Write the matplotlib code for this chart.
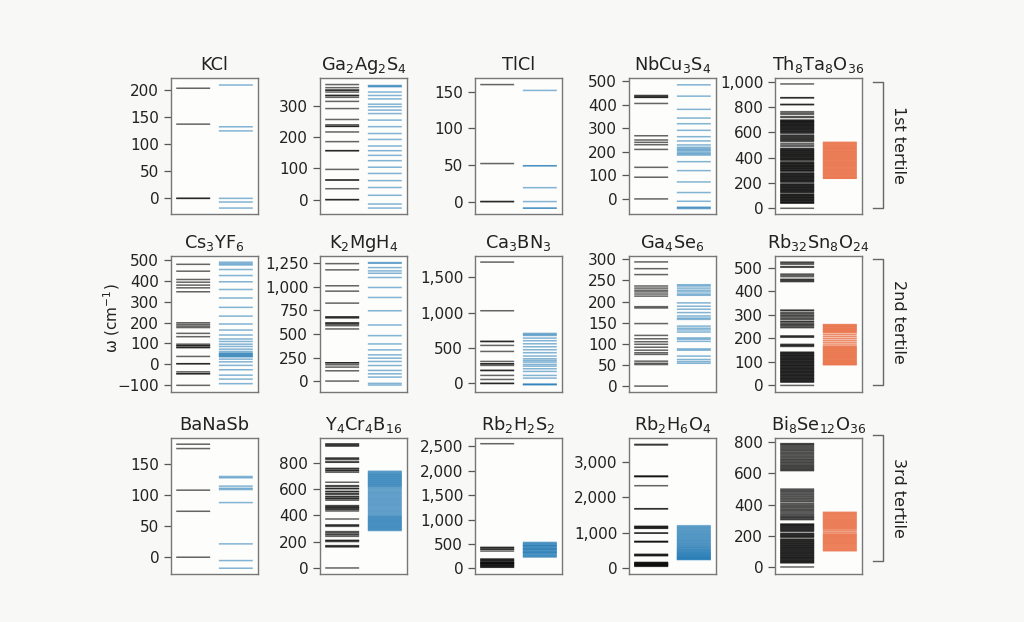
import matplotlib
matplotlib.use("Agg")
import matplotlib.pyplot as plt
from matplotlib.ticker import MultipleLocator, FuncFormatter
from matplotlib.lines import Line2D

plt.rcParams['font.family'] = ['DejaVu Sans']
plt.rcParams['mathtext.default'] = 'regular'

# ---------------- data (cm^-1) ----------------
titles = ['KCl', 'Ga$_2$Ag$_2$S$_4$', 'TlCl', 'NbCu$_3$S$_4$', 'Th$_8$Ta$_8$O$_{36}$',
          'Cs$_3$YF$_6$', 'K$_2$MgH$_4$', 'Ca$_3$BN$_3$', 'Ga$_4$Se$_6$', 'Rb$_{32}$Sn$_8$O$_{24}$',
          'BaNaSb', 'Y$_4$Cr$_4$B$_{16}$', 'Rb$_2$H$_2$S$_2$', 'Rb$_2$H$_6$O$_4$', 'Bi$_8$Se$_{12}$O$_{36}$']
tertiles = ['1st tertile', '2nd tertile', '3rd tertile']
ylims = [(-29, 223), (-46, 390), (-17, 169), (-64, 513), (-45, 1029),
         (-134, 520), (-116, 1327), (-121, 1797), (-14, 308), (-28, 551),
         (-27, 192), (-46, 990), (-115, 2672), (-180, 3695), (-45, 826)]
tick_steps = [50, 100, 50, 100, 200,
              100, 250, 500, 50, 100,
              50, 200, 500, 1000, 200]

ref_KCl = [0, 0, 137.5, 204]
pred_KCl = [210, 132.6, 125, 0, -6.8, -18]

ref_Ga2Ag2S4 = [0, 0, 35, 63, 63, 97, 157, 157, 186, 217, 235, 235, 240, 257, 292, 315,
                328, 334, 334, 345, 351, 351, 359, 369]
pred_Ga2Ag2S4 = [366, 364, 362, 345, 334, 323, 306, 298, 287, 276, 255, 234, 212, 193, 172,
                 157, 142, 125, 104, 84, 61, 39, 14, -14, -27]

ref_TlCl = [0, 0, 52, 160]
pred_TlCl = [152, 49, 49, 19, 0, -9, -9]

ref_NbCu3S4 = [0, 92, 134, 210, 230, 240, 250, 268, 405, 431, 431, 436, 439]
pred_NbCu3S4 = [484, 436, 380, 343, 319, 291, 264, 246, 229, 219, 213, 208, 203, 196, 191,
                186, 158, 120, 72, 27, -10, -35, -38, -41]

ref_Th8Ta8O36 = [0, 982, 874, 872, 821, 818, 763, 752, 742, 724, 717,
                 697, 693, 688, 684, 679, 674, 670, 664, 659, 655, 650, 645, 640, 634, 630,
                 625, 620, 614, 609, 604, 598, 593,
                 579, 573, 566, 560, 553, 547, 541, 534, 528, 512, 500, 490,
                 474, 469, 463, 459, 454, 448, 444, 439, 433, 428, 424, 419, 413, 409, 404,
                 398, 393, 389, 384, 379, 367, 362, 356, 352, 347, 341, 336, 332, 327, 321,
                 317, 312, 306, 301, 297, 292, 280, 275, 271, 266, 260, 255, 251, 246, 240,
                 236, 231, 225, 220, 216, 211, 205, 193, 188, 184, 179, 173, 168, 164, 159,
                 153, 148, 144, 139, 133, 129, 124, 113, 108, 104, 99, 93, 88, 84, 79, 73,
                 68, 64, 59, 53, 48, 44, 40]
pred_Th8Ta8O36 = [521, 514, 507, 500, 493, 486, 479, 472, 465, 458, 449, 444, 437, 430, 423,
                  416, 409, 402, 395, 388, 381, 374, 367, 360, 353, 346, 339, 332, 325, 318,
                  311, 304, 297, 290, 283, 276, 269, 262, 255, 248, 241, 237]

ref_Cs3YF6 = [480, 447, 407, 394, 380, 367, 348, 199, 191, 183, 176, 148, 132, 96, 89, 89,
              80, 80, 37, 2, 2, -37, -46, -46, -102]
pred_Cs3YF6 = [490, 483, 477, 455, 426, 396, 359, 318, 273, 231, 193, 164, 140, 121, 109,
               96, 85, 72, 61, 54, 50, 48, 44, 41, 38, 35, 24, 11, -6, -27, -53, -72, -94]

ref_K2MgH4 = [0, 109, 148, 173, 194, 194, 553, 588, 602, 616, 616, 669, 680, 680, 827, 954,
              1011, 1180, 1246]
pred_K2MgH4 = [1257, 1250, 1204, 1169, 1144, 1099, 993, 887, 746, 595, 482, 394, 331, 278,
               243, 208, 165, 113, 77, 42, -25, -42]

ref_Ca3BN3 = [0, 0, 56, 113, 183, 183, 254, 277, 277, 310, 451, 536, 592, 592, 1025, 1711]
pred_Ca3BN3 = [705, 690, 677, 639, 602, 559, 517, 475, 433, 386, 348, 324, 301, 268, 244,
               207, 169, 113, 75, -9, -14, -19]

ref_Ga4Se6 = [0, 51, 54, 59, 75, 79, 85, 92, 99, 105, 112, 120, 148, 185, 188, 213, 218, 223,
              227, 232, 237, 264, 278, 294]
pred_Ga4Se6 = [240, 237, 232, 227, 223, 218, 215, 197, 189, 182, 174, 166, 161, 158, 142,
               137, 133, 128, 114, 111, 106, 88, 85, 71, 63, 58, 54]

ref_Rb32Sn8O24 = [0, 14, 16, 19, 22, 25, 28, 30, 33, 36, 39, 42, 44, 47, 50, 53, 56, 58, 61,
                  64, 67, 70, 72, 75, 78, 81, 84, 86, 89, 92, 95, 98, 100, 103, 106, 109,
                  112, 114, 117, 120, 123, 126, 128, 131, 134, 137, 139, 142,
                  166, 169, 172, 175, 205, 208, 211,
                  246, 250, 256, 259, 264, 270, 273, 281, 285, 291, 296, 300, 306, 310, 318, 321,
                  442, 445, 449, 452, 463, 469, 474, 503, 506, 516, 521, 525]
pred_Rb32Sn8O24 = [259, 256, 252, 249, 245, 242, 238, 235, 231, 228, 224, 216, 208, 200, 192,
                   184, 176, 168, 164, 161, 157, 154, 150, 147, 143, 140, 136, 133, 129, 126,
                   122, 119, 115, 112, 108, 105, 101, 98, 94, 91, 88]

ref_BaNaSb = [0, 74, 108, 175, 182]
pred_BaNaSb = [130, 128, 114.5, 111, 109, 88, 21.5, -5.4, -17.7]

ref_Y4Cr4B16 = [945, 942, 932, 929, 838, 833, 825, 808, 805, 759, 754, 744, 740, 729, 653,
                627, 622, 607, 603, 584, 580, 566, 562, 546, 541, 531, 527, 516, 475, 470,
                462, 458, 450, 445, 434, 373, 328, 324, 317, 277, 270, 259, 252, 241, 211,
                207, 201, 170, 166, 160, 0]
pred_Y4Cr4B16 = [737, 731, 725, 719, 714, 709, 704, 699, 694, 689, 684, 679, 674, 669, 664,
                 659, 654, 649, 644, 639, 634, 629, 624, 619, 612, 605, 598, 590, 583, 576,
                 569, 562, 555, 548, 541, 534, 527, 520, 513, 506, 499, 492, 485, 478, 471,
                 464, 457, 450, 443, 436, 429, 422, 415, 408, 401, 395, 390, 385, 380, 375,
                 370, 365, 360, 355, 350, 345, 340, 335, 330, 325, 320, 315, 310, 305, 300,
                 295, 290, 285]

ref_Rb2H2S2 = [2555, 430, 426, 396, 392, 355, 191, 186, 164, 160, 140, 123, 118, 110, 96, 92,
               80, 61, 57, 45, 27, 22]
pred_Rb2H2S2 = [533, 520, 506, 492, 478, 466, 463, 450, 436, 422, 408, 397, 394, 382, 368,
                354, 340, 330, 326, 312, 298, 284, 270, 256, 244, 232]

ref_Rb2H6O4 = [3514, 3495, 2610, 2602, 2594, 2336, 1681, 1676, 1178, 1170, 1150, 1128, 1121,
               988, 983, 750, 741, 735, 380, 372, 350, 342, 152, 140, 128, 114, 100, 88, 76,
               62, 50, 38]
pred_Rb2H6O4 = [1197, 1172, 1148, 1124, 1100, 1076, 1052, 1030, 1006, 984, 960, 938, 916, 894,
                872, 850, 828, 806, 785, 764, 743, 722, 701, 680, 660, 640, 620, 600, 582,
                564, 546, 528, 510, 494, 478, 462, 446, 430, 416, 402, 388, 374, 360, 347,
                334, 321, 308, 296, 284, 272, 260, 250, 240, 230]

ref_Bi8Se12O36 = [0, 26, 30, 34, 38, 42, 46, 51, 55, 59, 63, 67, 72, 76, 80, 85, 89, 93, 97,
                  102, 106, 110, 115, 119, 123, 127, 132, 136, 140, 145, 149, 153, 158, 162,
                  166, 171, 175, 179, 190, 194, 198, 203, 207, 212, 216, 228, 232, 237, 241,
                  246, 250, 255, 259, 264, 268, 272, 275,
                  303, 308, 315, 320, 326, 333, 340, 348, 356, 363, 370, 378, 385, 392, 400,
                  407, 418, 425, 433, 440, 448, 455, 463, 470, 478, 485, 492, 499,
                  617, 622, 628, 634, 640, 646, 652, 659, 666, 672, 679, 686, 692, 700, 707,
                  714, 722, 729, 736, 744, 751, 758, 765, 772, 779, 786, 790]
pred_Bi8Se12O36 = [350, 344, 338, 332, 326, 320, 314, 308, 302, 296, 290, 284, 278, 272, 266,
                   260, 254, 248, 242, 232, 222, 212, 206, 200, 194, 188, 182, 176, 170, 164,
                   158, 152, 146, 140, 134, 128, 122, 116, 110, 104]

ref_modes = [ref_KCl, ref_Ga2Ag2S4, ref_TlCl, ref_NbCu3S4, ref_Th8Ta8O36,
             ref_Cs3YF6, ref_K2MgH4, ref_Ca3BN3, ref_Ga4Se6, ref_Rb32Sn8O24,
             ref_BaNaSb, ref_Y4Cr4B16, ref_Rb2H2S2, ref_Rb2H6O4, ref_Bi8Se12O36]
pred_modes = [pred_KCl, pred_Ga2Ag2S4, pred_TlCl, pred_NbCu3S4, pred_Th8Ta8O36,
              pred_Cs3YF6, pred_K2MgH4, pred_Ca3BN3, pred_Ga4Se6, pred_Rb32Sn8O24,
              pred_BaNaSb, pred_Y4Cr4B16, pred_Rb2H2S2, pred_Rb2H6O4, pred_Bi8Se12O36]

# ---------------- layout ----------------
W, H = 1024, 622
BG = '#f8f8f6'
fig = plt.figure(figsize=(W / 100, H / 100), dpi=100, facecolor=BG)

col_left = [171, 320, 475, 629, 775]
row_top = [78, 256, 438]
aw, ah = 87, 136

BLUE = '#1f78b4'
ORANGE = '#ea7045'
fmt = FuncFormatter(lambda v, p: f"{v:,.0f}".replace('-', '\u2212'))

for i in range(15):
    r, c = divmod(i, 5)
    ax = fig.add_axes([col_left[c] / W, 1 - (row_top[r] + ah) / H, aw / W, ah / H])
    ax.set_facecolor('#fdfdfc')
    ax.set_xlim(0, 1)
    ax.set_ylim(*ylims[i])
    ax.hlines(ref_modes[i], 0.06, 0.45, color='black', alpha=0.6, lw=1.1, snap=False)
    if c == 4:
        ax.hlines(pred_modes[i], 0.55, 0.94, color=ORANGE, alpha=0.8, lw=1.1, snap=False)
    else:
        ax.hlines(pred_modes[i], 0.55, 0.94, color=BLUE, alpha=0.55, lw=1.1, snap=False)
    ax.set_xticks([])
    ax.yaxis.set_major_locator(MultipleLocator(tick_steps[i]))
    ax.yaxis.set_major_formatter(fmt)
    ax.tick_params(axis='y', length=5, width=0.9, color='#555555', labelsize=11,
                   labelcolor='#222222', pad=3.5)
    for s in ax.spines.values():
        s.set_color('#777777')
        s.set_linewidth(1.0)
    ax.set_title(titles[i], fontsize=12.8, color='#222222', pad=6)

# y label
fig.text(112 / W, 1 - 318 / H, '\u03c9 (cm$^{-1}$)', rotation=90, ha='center', va='center',
         fontsize=11, color='#222222')

# tertile brackets
br_spans = [(82, 208), (259, 385), (435, 561)]
for (y0, y1), lab in zip(br_spans, tertiles):
    xs = [873 / W, 883 / W, 883 / W, 873 / W]
    ys = [1 - y0 / H, 1 - y0 / H, 1 - y1 / H, 1 - y1 / H]
    fig.add_artist(Line2D(xs, ys, color='#666666', lw=1.0))
    fig.text(898 / W, 1 - (y0 + y1) / 2 / H, lab, rotation=270, ha='center', va='center',
             fontsize=11.5, color='#222222')

fig.savefig('out.png', dpi=100, facecolor=BG)
